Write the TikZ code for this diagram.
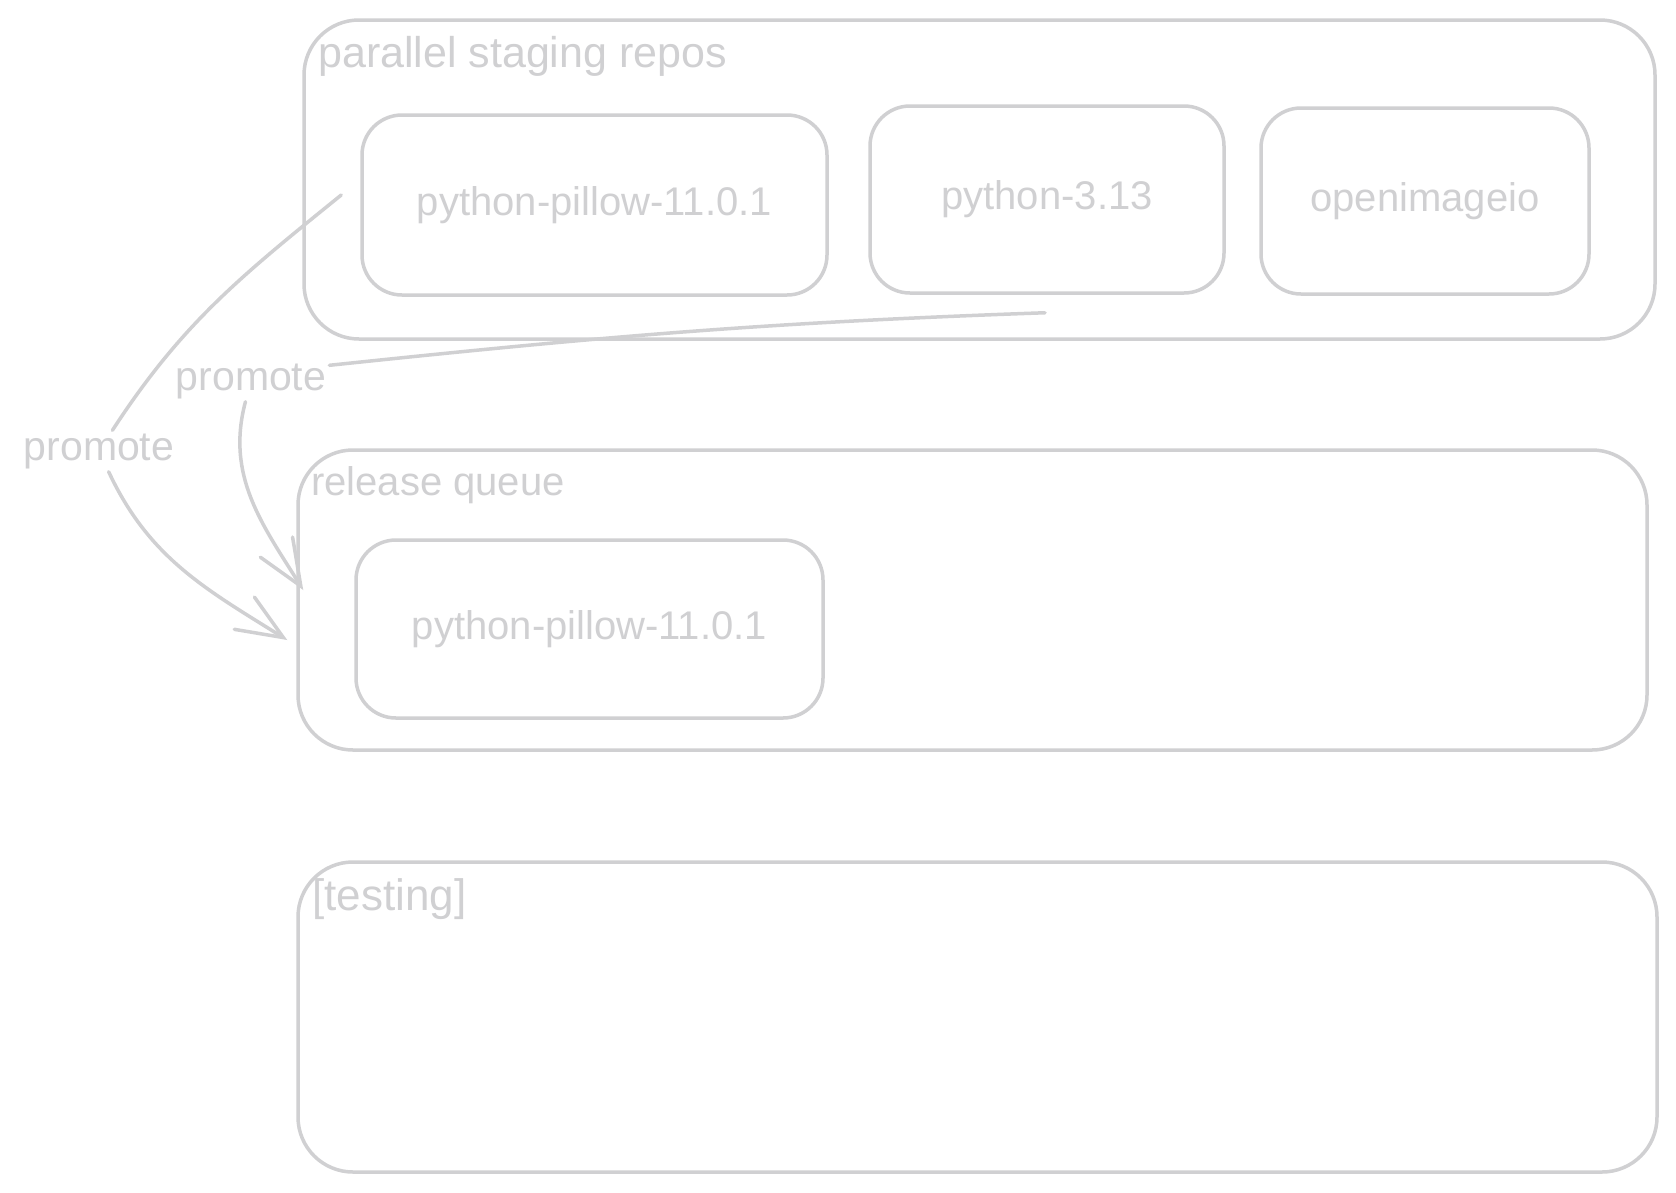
\documentclass[tikz,border=0pt]{standalone}
\usepackage{fontspec}
\setmainfont{Liberation Sans}
\usetikzlibrary{arrows.meta,calc}
\definecolor{sk}{RGB}{208,208,210}
\begin{document}
\begin{tikzpicture}[x=1pt,y=1pt,
  every node/.style={text=sk},
  txt/.style={font=\fontsize{40}{48}\selectfont},
  box/.style={draw=sk, line width=3.5pt, rounded corners=40pt, txt},
  frame/.style={draw=sk, line width=3.5pt, rounded corners=55pt},
  ttl/.style={anchor=base west, inner sep=0pt, font=\fontsize{41}{48}\selectfont},
  lbl/.style={inner sep=3pt, font=\fontsize{41}{48}\selectfont},
  conn/.style={draw=sk, line width=3.5pt, line cap=round, line join=round},
  tipped/.style={conn, -{Straight Barb[length=46pt,width=38pt,line cap=round]}}
]
\useasboundingbox[fill=white] (0,0) rectangle (1676,-1192);

% containers
\node[frame, minimum width=1351pt, minimum height=319pt] (stg) at (979.5,-179.5) {};
\node[frame, minimum width=1349pt, minimum height=300pt] (rq) at (972.5,-600) {};
\node[frame, minimum width=1359pt, minimum height=310pt] (tst) at (977.5,-1017) {};

\node[ttl, font=\fontsize{43}{50}\selectfont] (stgt) at (318,-67) {parallel staging repos};
\node[ttl, font=\fontsize{40}{48}\selectfont] (rqt) at (311,-495) {release queue};
\node[ttl, font=\fontsize{44}{50}\selectfont] (tstt) at (312,-910) {[testing]};

% packages
\node[box, minimum width=465pt, minimum height=180pt] (pil1) at (594.5,-205) {python-pillow-11.0.1};
\node[box, minimum width=354pt, minimum height=187pt] (py) at (1047,-199.5) {python-3.13};
\node[box, minimum width=328pt, minimum height=186pt] (oiio) at (1425,-201) {openimageio};
\node[box, minimum width=467pt, minimum height=178pt] (pil2) at (589.5,-629) {python-pillow-11.0.1};

% arrow labels
\node[lbl] (l1) at (99,-451) {promote};
\node[lbl] (l2) at (251,-381) {promote};

% free ends
\coordinate (a1s) at ($(pil1.west)+(-19,10)$);
\coordinate (a1e) at ($(rq.west)+(-9,-40)$);
\coordinate (a2s) at ($(py.south)+(-2,-18)$);
\coordinate (a2e) at ($(rq.west)+(7,10)$);

% connectors
\draw[conn] (a1s) to[out=219,in=57] (l1);
\draw[tipped] (l1) to[out=-65,in=148] (a1e);
\draw[conn] (a2s) to[out=182,in=6] ([yshift=-5pt]l2.north east);
\draw[tipped] (l2) to[out=255,in=122] (a2e);
\end{tikzpicture}
\end{document}
